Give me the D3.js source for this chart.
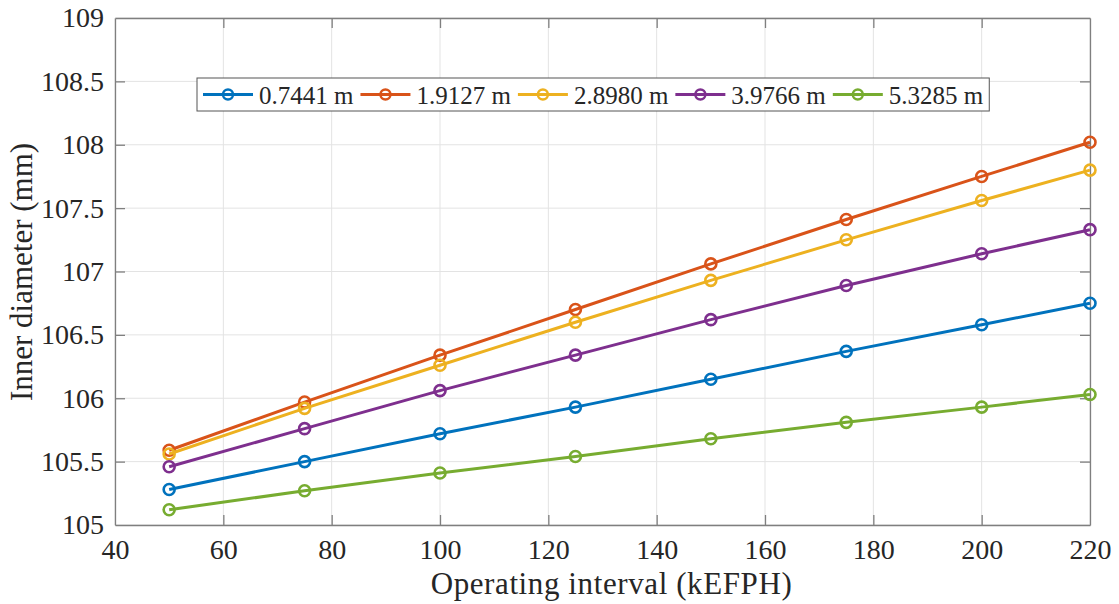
<!DOCTYPE html>
<html>
<head>
<meta charset="utf-8">
<script src="https://cdn.jsdelivr.net/npm/d3@7"></script>
<style>
  body { margin: 0; background: #fff; }
  svg text { font-family: "Liberation Serif", "Times New Roman", serif; fill: #262626; }
</style>
</head>
<body>
<div id="chart"></div>
<script>
// ---------------------------------------
// data
const intervals = [50, 75, 100, 125, 150, 175, 200, 220]; // kEFPH
const seriesNames = ["0.7441 m", "1.9127 m", "2.8980 m", "3.9766 m", "5.3285 m"];
const d07441 = [105.28, 105.50, 105.72, 105.93, 106.15, 106.37, 106.58, 106.75];
const d19127 = [105.59, 105.97, 106.34, 106.70, 107.06, 107.41, 107.75, 108.02];
const d28980 = [105.56, 105.92, 106.26, 106.60, 106.93, 107.25, 107.56, 107.80];
const d39766 = [105.46, 105.76, 106.06, 106.34, 106.62, 106.89, 107.14, 107.33];
const d53285 = [105.12, 105.27, 105.41, 105.54, 105.68, 105.81, 105.93, 106.03];
const xTicks = [40, 60, 80, 100, 120, 140, 160, 180, 200, 220];
const yTicks = [105, 105.5, 106, 106.5, 107, 107.5, 108, 108.5, 109];
const colors = ["#0072BD", "#D95319", "#EDB120", "#7E2F8E", "#77AC30"];

const allSeries = [d07441, d19127, d28980, d39766, d53285].map((vals, i) => ({
  name: seriesNames[i],
  color: colors[i],
  points: vals.map((v, j) => ({x: intervals[j], y: v}))
}));

// ---------------------------------------
// svg params
const W = 1119, H = 604;
const margin = {top: 18, right: 29, bottom: 79, left: 115};
const width = W - margin.left - margin.right;
const height = H - margin.top - margin.bottom;
const serif = "'Liberation Serif', 'Times New Roman', serif";

const svg = d3.select("#chart").append("svg")
    .attr("width", W)
    .attr("height", H);

const g = svg.append("g")
    .attr("transform", "translate(" + margin.left + "," + margin.top + ")");

const x = d3.scaleLinear().domain([40, 220]).range([0, width]);
const y = d3.scaleLinear().domain([105, 109]).range([height, 0]);

// grid
g.append("g").selectAll("line")
    .data(xTicks)
    .enter().append("line")
    .attr("x1", (d) => x(d)).attr("x2", (d) => x(d))
    .attr("y1", 0).attr("y2", height)
    .attr("stroke", "#e3e3e3").attr("stroke-width", 1);
g.append("g").selectAll("line")
    .data(yTicks)
    .enter().append("line")
    .attr("y1", (d) => y(d)).attr("y2", (d) => y(d))
    .attr("x1", 0).attr("x2", width)
    .attr("stroke", "#e3e3e3").attr("stroke-width", 1);

// axes (ticks inside, box on)
const tickLen = 10;
const axisColor = "#7f7f7f";
const fmt = (d) => String(d);

const xAxis = g.append("g")
    .attr("transform", "translate(0," + height + ")")
    .call(d3.axisBottom(x).tickValues(xTicks).tickFormat(fmt).tickSizeInner(-tickLen).tickSizeOuter(0).tickPadding(14));
const xAxisTop = g.append("g")
    .call(d3.axisTop(x).tickValues(xTicks).tickFormat("").tickSizeInner(-tickLen).tickSizeOuter(0));
const yAxis = g.append("g")
    .call(d3.axisLeft(y).tickValues(yTicks).tickFormat(fmt).tickSizeInner(-tickLen).tickSizeOuter(0).tickPadding(11));
const yAxisRight = g.append("g")
    .attr("transform", "translate(" + width + ",0)")
    .call(d3.axisRight(y).tickValues(yTicks).tickFormat("").tickSizeInner(-tickLen).tickSizeOuter(0));

[xAxis, xAxisTop, yAxis, yAxisRight].forEach((a) => {
  a.attr("font-family", serif).attr("font-size", 28);
  a.select(".domain").attr("stroke", axisColor).attr("stroke-width", 1.3);
  a.selectAll(".tick line").attr("stroke", axisColor).attr("stroke-width", 1.3);
  a.selectAll(".tick text").attr("font-size", 28).attr("font-family", serif).attr("fill", "#262626");
});
// first/last ticks sit on the box edge
xAxis.selectAll(".tick line").filter((d) => d === 40 || d === 220).attr("stroke", "none");
xAxisTop.selectAll(".tick line").filter((d) => d === 40 || d === 220).attr("stroke", "none");
yAxis.selectAll(".tick line").filter((d) => d === 105 || d === 109).attr("stroke", "none");
yAxisRight.selectAll(".tick line").filter((d) => d === 105 || d === 109).attr("stroke", "none");

// ---------------------------------------
// lines + markers
const line = d3.line().x((d) => x(d.x)).y((d) => y(d.y));

const series = g.selectAll(".series")
    .data(allSeries)
    .enter().append("g")
    .attr("class", "series");

series.append("path")
    .attr("d", (d) => line(d.points))
    .attr("fill", "none")
    .attr("stroke", (d) => d.color)
    .attr("stroke-width", 3);

series.selectAll("circle")
    .data((d) => d.points.map((p) => ({...p, color: d.color})))
    .enter().append("circle")
    .attr("cx", (d) => x(d.x))
    .attr("cy", (d) => y(d.y))
    .attr("r", 5.5)
    .attr("fill", "none")
    .attr("stroke", (d) => d.color)
    .attr("stroke-width", 2.6);

// ---------------------------------------
// axis labels
svg.append("text")
    .attr("x", margin.left + width / 2 + 9)
    .attr("y", 594)
    .attr("text-anchor", "middle")
    .attr("font-family", serif)
    .attr("font-size", 31)
    .attr("letter-spacing", 0.6)
    .text("Operating interval (kEFPH)");

svg.append("text")
    .attr("transform", "translate(32,272) rotate(-90)")
    .attr("text-anchor", "middle")
    .attr("font-family", serif)
    .attr("font-size", 31)
    .text("Inner diameter (mm)");

// ---------------------------------------
// legend
const legend = svg.append("g").attr("transform", "translate(197,78)");
const legendBox = legend.append("rect")
    .attr("height", 33)
    .attr("fill", "#fff")
    .attr("stroke", "#555")
    .attr("stroke-width", 1);

let lx = 6;
allSeries.forEach((s) => {
  const item = legend.append("g").attr("transform", "translate(" + lx + ",0)");
  item.append("line")
      .attr("x1", 0).attr("x2", 50)
      .attr("y1", 16.5).attr("y2", 16.5)
      .attr("stroke", s.color).attr("stroke-width", 3);
  item.append("circle")
      .attr("cx", 25).attr("cy", 16.5).attr("r", 5)
      .attr("fill", "none").attr("stroke", s.color).attr("stroke-width", 2.4);
  const t = item.append("text")
      .attr("x", 56).attr("y", 26)
      .attr("font-family", serif)
      .attr("font-size", 25)
      .text(s.name);
  lx += 56 + t.node().getComputedTextLength() + 7;
});
legendBox.attr("width", lx - 1);
</script>
</body>
</html>
